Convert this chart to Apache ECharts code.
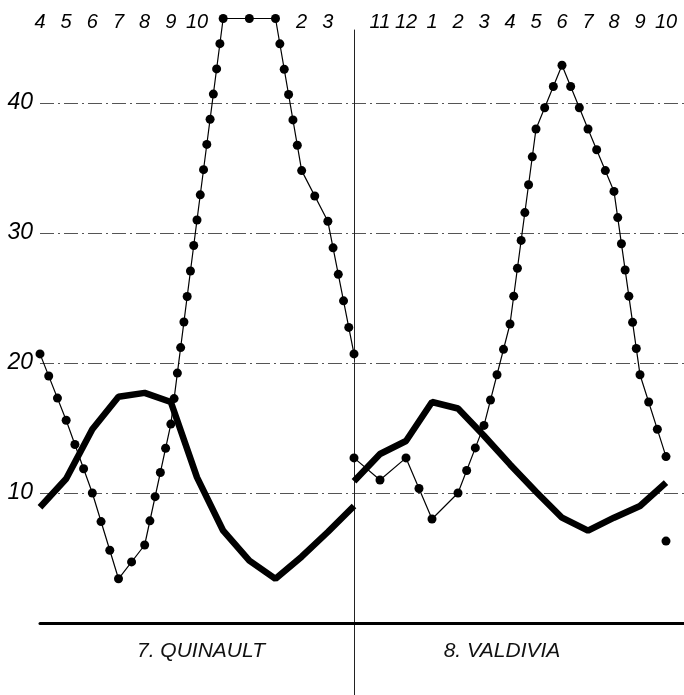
<!DOCTYPE html>
<html>
<head>
<meta charset="utf-8">
<title>7. Quinault / 8. Valdivia</title>
<script src="https://cdn.jsdelivr.net/npm/echarts@6/dist/echarts.min.js"></script>
<style>
  html, body { margin: 0; padding: 0; background: #fff; }
  #chart { width: 684px; height: 695px; }
</style>
</head>
<body>
<div id="chart"></div>
<script>
// month of each point along the panel (the 13th point repeats the first month)
const quinaultMonths = ['4', '5', '6', '7', '8', '9', '10', '11', '12', '1', '2', '3', '4'];
const valdiviaMonths = ['10', '11', '12', '1', '2', '3', '4', '5', '6', '7', '8', '9', '10'];
// labels printed along the top (some are hidden under the curve in the original)
const quinaultTickLabels = ['4', '5', '6', '7', '8', '9', '10', '', '', '', '2', '3', ''];
const valdiviaTickLabels = ['', '11', '12', '1', '2', '3', '4', '5', '6', '7', '8', '9', '10'];
const yTickLabels = [10, 20, 30, 40];

// thick curve
const quinaultTemp = [8.9, 11.1, 14.9, 17.4, 17.7, 17.0, 11.2, 7.1, 4.8, 3.4, 5.1, 7.0, 9.0];
const valdiviaTemp = [10.9, 13.0, 14.0, 17.0, 16.5, 14.4, 12.2, 10.1, 8.1, 7.1, 8.1, 9.0, 10.8];
// dotted curve (46.5 = cut off at top of the frame)
const quinaultRain = [20.7, 15.6, 10.0, 3.4, 6.0, 15.3, 31.0, 46.5, 46.5, 46.5, 34.8, 30.9, 20.7];
const valdiviaRain = [12.7, 11.0, 12.7, 8.0, 10.0, 15.2, 23.0, 38.0, 42.9, 38.0, 33.2, 19.1, 12.8];
// lone dot below the end of the Valdivia curve
const valdiviaStray = [[12, 6.3]];

const yMax = 46.5;
const gridTop = 18.5, gridBottom = 72;
const font = '"Liberation Sans", Arial, sans-serif';

function pts(arr) {
    return arr.map(function (v, i) { return [i, v]; });
}
function segs(arr) {
    let out = [];
    for (let i = 0; i < arr.length - 1; i++) {
        out.push([i, arr[i], i + 1, arr[i + 1], i === arr.length - 2 ? 1 : 0]);
    }
    return out;
}

// dots on every month point, and spread evenly between them
function dotRenderer(params, api) {
    let a = api.coord([api.value(0), api.value(1)]);
    let b = api.coord([api.value(2), api.value(3)]);
    let len = Math.hypot(b[0] - a[0], b[1] - a[1]);
    let n = Math.max(1, Math.round(len / 27));
    let last = api.value(4) === 1;
    let children = [];
    for (let k = 0; k <= (last ? n : n - 1); k++) {
        let t = k / n;
        children.push({
            type: 'circle',
            shape: { cx: a[0] + (b[0] - a[0]) * t, cy: a[1] + (b[1] - a[1]) * t, r: 4.5 },
            style: { fill: '#000' }
        });
    }
    return { type: 'group', children: children };
}

function monthAxis(gridIndex, labels) {
    return {
        type: 'value', gridIndex: gridIndex, position: 'top',
        min: 0, max: 12, interval: 1,
        axisLine: { show: false }, axisTick: { show: false }, splitLine: { show: false },
        axisLabel: {
            formatter: function (v) { return labels[v] || ''; },
            margin: -4, verticalAlign: 'middle',
            showMinLabel: true, showMaxLabel: true,
            fontFamily: font, fontStyle: 'italic', fontSize: 20, color: '#000'
        }
    };
}
function hiddenY(gridIndex) {
    return { type: 'value', gridIndex: gridIndex, min: 0, max: yMax, show: false };
}
function tempLine(xi, arr) {
    return {
        type: 'line', xAxisIndex: xi, yAxisIndex: xi, data: pts(arr),
        symbol: 'none', clip: false, z: 3,
        lineStyle: { color: '#000', width: 6.5 }
    };
}
function rainLine(xi, arr) {
    return {
        type: 'line', xAxisIndex: xi, yAxisIndex: xi, data: pts(arr),
        symbol: 'none', clip: false, z: 4,
        lineStyle: { color: '#000', width: 1.2 }
    };
}
function rainDots(xi, arr) {
    return {
        type: 'custom', xAxisIndex: xi, yAxisIndex: xi, data: segs(arr),
        encode: { x: [0, 2], y: [1, 3] }, renderItem: dotRenderer, z: 5
    };
}

let option = {
    animation: false,
    backgroundColor: '#fff',
    title: [
        { text: '7. QUINAULT', left: 201, top: 651, textAlign: 'center', textVerticalAlign: 'middle', padding: 0,
          textStyle: { fontFamily: font, fontStyle: 'italic', fontWeight: 'normal', fontSize: 21, color: '#111' } },
        { text: '8. VALDIVIA', left: 502, top: 651, textAlign: 'center', textVerticalAlign: 'middle', padding: 0,
          textStyle: { fontFamily: font, fontStyle: 'italic', fontWeight: 'normal', fontSize: 21, color: '#111' } }
    ],
    grid: [
        { left: 40, right: 0, top: gridTop, bottom: gridBottom },
        { left: 40, width: 314, top: gridTop, bottom: gridBottom },
        { left: 354, width: 312, top: gridTop, bottom: gridBottom },
        { left: 354, width: 10, top: 30, bottom: 0 }
    ],
    xAxis: [
        { type: 'value', gridIndex: 0, min: 0, max: 1,
          axisLine: { show: true, lineStyle: { color: '#000', width: 3 } },
          axisTick: { show: false }, axisLabel: { show: false }, splitLine: { show: false } },
        monthAxis(1, quinaultTickLabels),
        monthAxis(2, valdiviaTickLabels),
        { type: 'value', gridIndex: 3, show: false }
    ],
    yAxis: [
        { type: 'value', gridIndex: 0, min: 0, max: yMax, interval: 10,
          axisLine: { show: false }, axisTick: { show: false },
          axisLabel: {
              formatter: function (v) { return yTickLabels.indexOf(v) >= 0 ? String(v) : ''; },
              margin: 7, fontFamily: font, fontStyle: 'italic', fontSize: 23, color: '#000'
          },
          splitLine: { show: true, showMinLine: false, showMaxLine: false,
                       lineStyle: { color: '#555', width: 1, type: [14, 4, 2, 4] } } },
        hiddenY(1),
        hiddenY(2),
        { type: 'value', gridIndex: 3, min: 0, max: 1,
          axisLine: { show: true, lineStyle: { color: '#222', width: 1 } },
          axisTick: { show: false }, axisLabel: { show: false }, splitLine: { show: false } }
    ],
    series: [
        tempLine(1, quinaultTemp),
        rainLine(1, quinaultRain),
        rainDots(1, quinaultRain),
        tempLine(2, valdiviaTemp),
        rainLine(2, valdiviaRain),
        rainDots(2, valdiviaRain),
        { type: 'scatter', xAxisIndex: 2, yAxisIndex: 2, data: valdiviaStray,
          symbol: 'circle', symbolSize: 9, itemStyle: { color: '#000', opacity: 1 } }
    ]
};

let myChart = echarts.init(document.getElementById('chart'));
myChart.setOption(option);
</script>
</body>
</html>
